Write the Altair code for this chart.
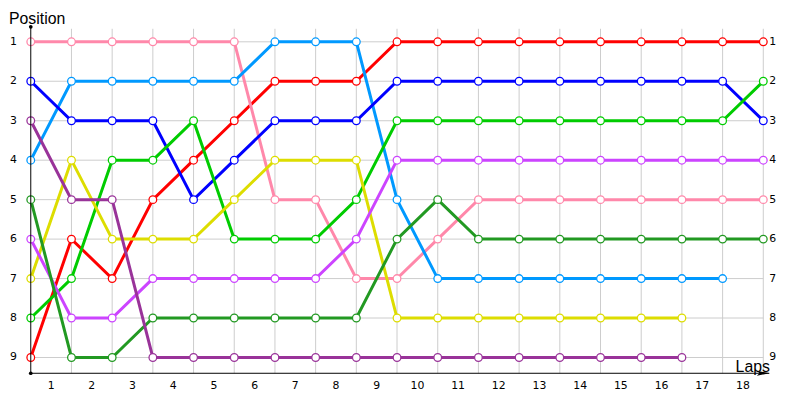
import altair as alt
import pandas as pd

laps = list(range(19))
positions = list(range(1, 10))
lap_labels = list(range(1, 19))

red = [9, 6, 7, 5, 4, 3, 2, 2, 2, 1, 1, 1, 1, 1, 1, 1, 1, 1, 1]
pink = [1, 1, 1, 1, 1, 1, 5, 5, 7, 7, 6, 5, 5, 5, 5, 5, 5, 5, 5]
lightblue = [4, 2, 2, 2, 2, 2, 1, 1, 1, 5, 7, 7, 7, 7, 7, 7, 7, 7, None]
blue = [2, 3, 3, 3, 5, 4, 3, 3, 3, 2, 2, 2, 2, 2, 2, 2, 2, 2, 3]
green = [8, 7, 4, 4, 3, 6, 6, 6, 5, 3, 3, 3, 3, 3, 3, 3, 3, 3, 2]
yellow = [7, 4, 6, 6, 6, 5, 4, 4, 4, 8, 8, 8, 8, 8, 8, 8, 8, None, None]
purple = [6, 8, 8, 7, 7, 7, 7, 7, 6, 4, 4, 4, 4, 4, 4, 4, 4, 4, 4]
darkgreen = [5, 9, 9, 8, 8, 8, 8, 8, 8, 6, 5, 6, 6, 6, 6, 6, 6, 6, 6]
darkpurple = [3, 5, 5, 9, 9, 9, 9, 9, 9, 9, 9, 9, 9, 9, 9, 9, 9, None, None]

names = ["red", "pink", "lightblue", "blue", "green", "yellow", "purple", "darkgreen", "darkpurple"]
series = [red, pink, lightblue, blue, green, yellow, purple, darkgreen, darkpurple]
colors = ["#FF0000", "#FF88AA", "#0099FF", "#0000FF", "#00CC00", "#DDDD00", "#CC44FF", "#229922", "#993399"]

rows = []
for i, (n, vals) in enumerate(zip(names, series)):
    for lap, v in zip(laps, vals):
        if v is not None:
            rows.append({"driver": n, "lap": lap, "pos": v, "k": i})
df = pd.DataFrame(rows)

xs = alt.Scale(domain=[0, 18], nice=False, zero=False)
ys = alt.Scale(domain=[0.62, 9.4], reverse=True, nice=False, zero=False)
cs = alt.Scale(domain=names, range=colors)

FONT = "DejaVu Sans"
X = lambda f: alt.X(f, scale=xs, axis=None)
Y = lambda f: alt.Y(f, scale=ys, axis=None)

vgrid = alt.Chart(pd.DataFrame({"lap": laps[1:]})).mark_rule(color="#CCCCCC", strokeWidth=1).encode(
    x=X("lap:Q"), y=alt.value(2), y2=alt.value(350))

hgrid = alt.Chart(pd.DataFrame({"pos": positions, "a": laps[0], "b": laps[-1]})).mark_rule(
    color="#CCCCCC", strokeWidth=1).encode(y=Y("pos:Q"), x=X("a:Q"), x2="b:Q")

layers = [vgrid, hgrid]
for i, n in enumerate(names):
    sub = df[df.driver == n]
    base = alt.Chart(sub)
    line = base.mark_line(strokeWidth=3).encode(
        x=X("lap:Q"), y=Y("pos:Q"),
        color=alt.Color("driver:N", scale=cs, legend=None),
        order="lap:Q")
    pts = base.mark_circle(size=60, fill="white", fillOpacity=1, strokeWidth=1.3, opacity=1).encode(
        x=X("lap:Q"), y=Y("pos:Q"),
        stroke=alt.Stroke("driver:N", scale=cs, legend=None))
    layers += [line, pts]

right_labels = alt.Chart(pd.DataFrame({"pos": positions, "lap": laps[-1]})).mark_text(
    align="left", baseline="middle", dx=6, font=FONT, fontSize=11, color="black").encode(
    x=X("lap:Q"), y=Y("pos:Q"), text=alt.Text("pos:Q", format="d"))

left_labels = alt.Chart(pd.DataFrame({"pos": positions, "lap": laps[0]})).mark_text(
    align="right", baseline="middle", dx=-14, font=FONT, fontSize=11, color="black").encode(
    x=X("lap:Q"), y=Y("pos:Q"), text=alt.Text("pos:Q", format="d"))

x_labels = alt.Chart(pd.DataFrame({"lbl": lap_labels, "mid": [l - 0.5 for l in lap_labels]})).mark_text(
    align="center", baseline="middle", font=FONT, fontSize=11, color="black").encode(
    x=X("mid:Q"), y=alt.value(363), text=alt.Text("lbl:Q", format="d"))

one = pd.DataFrame({"t": [0]})
yaxis_line = alt.Chart(one).mark_rule(color="black", strokeWidth=1).encode(
    x=alt.value(0), y=alt.value(0), y2=alt.value(350))
xaxis_line = alt.Chart(one).mark_rule(color="black", strokeWidth=1).encode(
    y=alt.value(350), x=alt.value(0), x2=alt.value(746))
dot_top = alt.Chart(one).mark_circle(color="black", size=14, opacity=1).encode(
    x=alt.value(0), y=alt.value(0))
dot_bot = alt.Chart(one).mark_circle(color="black", size=14, opacity=1).encode(
    x=alt.value(0), y=alt.value(350))
arrow = alt.Chart(one).mark_point(shape="M-1,-0.38L1,0L-1,0.38L-0.6,0Z", size=169, filled=True,
                                  color="black", opacity=1).encode(
    x=alt.value(740), y=alt.value(350))

title_y = alt.Chart(pd.DataFrame({"t": ["Position"]})).mark_text(
    align="left", baseline="alphabetic", font="Liberation Sans", fontSize=16, color="black").encode(
    text="t:N", x=alt.value(-22), y=alt.value(-3))
title_x = alt.Chart(pd.DataFrame({"t": ["Laps"]})).mark_text(
    align="left", baseline="alphabetic", font="Liberation Sans", fontSize=16, color="black").encode(
    text="t:N", x=alt.value(712), y=alt.value(349))

layers += [right_labels, left_labels, x_labels, yaxis_line, xaxis_line, dot_top, dot_bot, arrow,
           title_y, title_x]

chart = alt.layer(*layers).properties(
    width=740, height=350,
    autosize=alt.AutoSizeParams(type="none"),
    padding={"left": 23, "top": 17, "right": 29, "bottom": 25},
    background="white"
).configure_view(stroke=None)

chart.save("out.html", embed_options={"renderer": "svg", "actions": False})
